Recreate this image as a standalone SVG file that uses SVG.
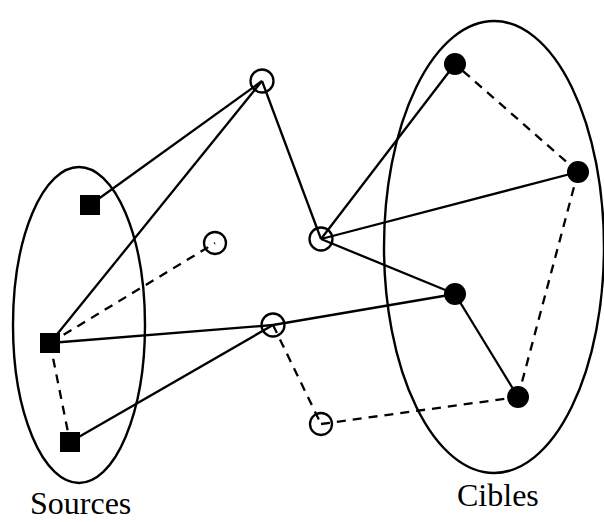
<svg xmlns="http://www.w3.org/2000/svg" width="604" height="522" viewBox="0 0 604 522">
<style>
.grp{fill:none;stroke:#000;stroke-width:2.4}
.e{stroke:#000;stroke-width:2.3;fill:none}
.d{stroke-dasharray:9 7}
.sq{fill:#000}
.oc{fill:none;stroke:#000;stroke-width:2.3}
.fc{fill:#000}
.lbl{font-size:32px;fill:#000}
</style>
<rect width="604" height="522" fill="#fff"/>
<g id="groups">
<ellipse class="grp" cx="79" cy="325" rx="66" ry="158"/>
<ellipse class="grp" cx="494" cy="247" rx="110" ry="226"/>
</g>
<g id="connectors">
<line class="e" x1="90" y1="205" x2="262" y2="81"/>
<line class="e" x1="50" y1="343" x2="262" y2="81"/>
<line class="e" x1="262" y1="81" x2="321" y2="239"/>
<line class="e" x1="321" y1="239" x2="455" y2="64"/>
<line class="e" x1="321" y1="239" x2="578" y2="172"/>
<line class="e" x1="321" y1="239" x2="455" y2="294"/>
<line class="e" x1="50" y1="343" x2="273" y2="325"/>
<line class="e" x1="273" y1="325" x2="455" y2="294"/>
<line class="e" x1="70" y1="442" x2="273" y2="325"/>
<line class="e" x1="455" y1="294" x2="518" y2="397"/>
<line class="e d" x1="50" y1="343" x2="215" y2="243"/>
<line class="e d" x1="50" y1="343" x2="70" y2="442"/>
<line class="e d" x1="273" y1="325" x2="321" y2="424"/>
<line class="e d" x1="321" y1="424" x2="518" y2="397"/>
<line class="e d" x1="518" y1="397" x2="578" y2="172"/>
<line class="e d" x1="578" y1="172" x2="455" y2="64"/>
</g>
<g id="s1"><rect class="sq" x="80" y="195" width="20" height="20"/></g>
<g id="s2"><rect class="sq" x="40" y="333" width="20" height="20"/></g>
<g id="s3"><rect class="sq" x="60" y="432" width="20" height="20"/></g>
<g id="c1"><circle class="oc" cx="262" cy="81" r="11.5"/></g>
<g id="c2"><circle class="oc" cx="215" cy="243" r="11"/></g>
<g id="c3"><circle class="oc" cx="321" cy="239" r="11.5"/></g>
<g id="c4"><circle class="oc" cx="273" cy="325" r="11.5"/></g>
<g id="c5"><circle class="oc" cx="321" cy="424" r="11"/></g>
<g id="t1"><circle class="fc" cx="455" cy="64" r="11"/></g>
<g id="t2"><circle class="fc" cx="578" cy="172" r="11"/></g>
<g id="t3"><circle class="fc" cx="455" cy="294" r="11"/></g>
<g id="t4"><circle class="fc" cx="518" cy="397" r="11"/></g>
<g id="labels">
<text class="lbl" x="30" y="514" font-family="Liberation Serif, Times New Roman, serif">Sources</text>
<text class="lbl" x="457" y="506" font-family="Liberation Serif, Times New Roman, serif">Cibles</text>
</g>
</svg>
